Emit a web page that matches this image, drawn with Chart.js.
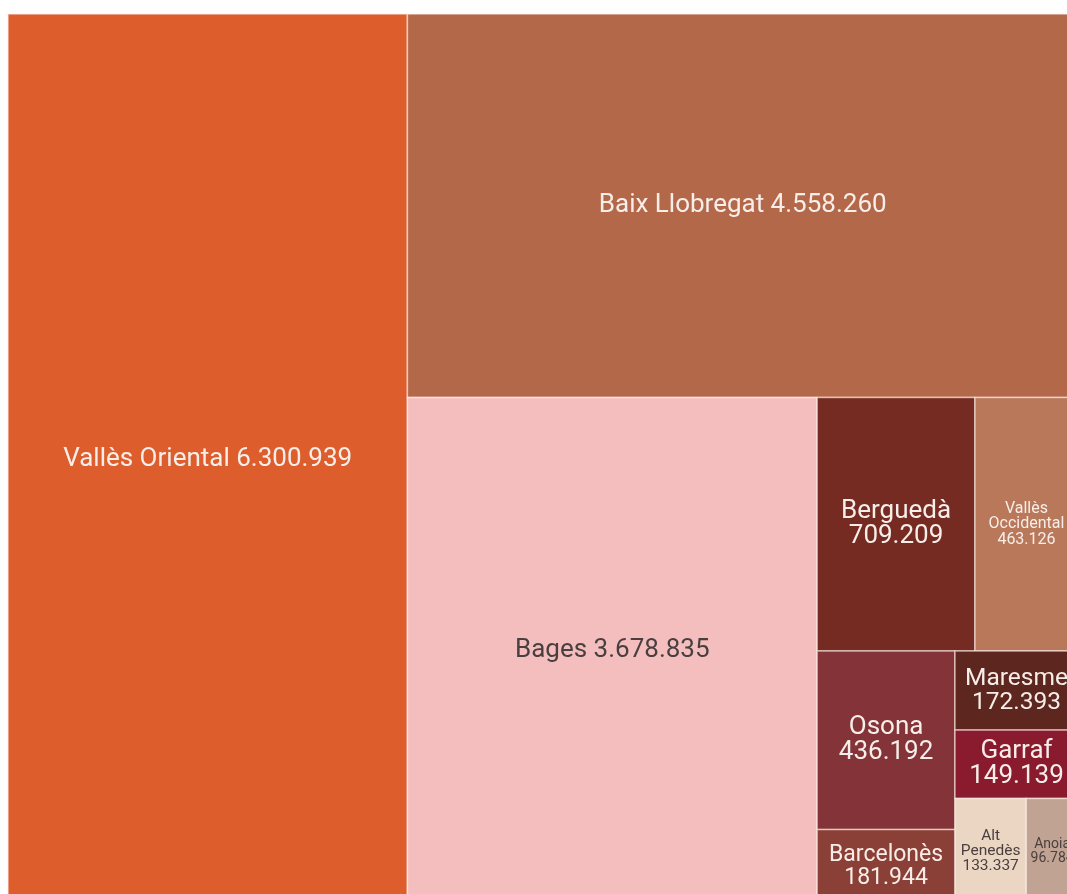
<!DOCTYPE html>
<html>
<head>
<meta charset="utf-8">
<script src="https://cdn.jsdelivr.net/npm/chart.js@4.4.1/dist/chart.umd.min.js"></script>
<style>
  html, body { margin: 0; padding: 0; background: #fff; overflow: hidden; }
  #wrap { position: absolute; left: 0; top: 0; width: 1090px; height: 910px; }
</style>
</head>
<body>
<div id="wrap"><canvas id="treemap"></canvas></div>
<script>
// comarques i valors
const categories = ['Vallès Oriental', 'Baix Llobregat', 'Bages', 'Berguedà', 'Vallès Occidental',
                    'Osona', 'Barcelonès', 'Maresme', 'Garraf', 'Alt Penedès', 'Anoia'];
const values = [6300939, 4558260, 3678835, 709209, 463126, 436192, 181944, 172393, 149139, 133337, 96784];

// mida de l'espai del treemap (unitats de l'eix)
const AREA_W = 1070;
const AREA_H = 890;

// colors per comarca
const palette = {
    'Vallès Oriental': '#dd5e2c',
    'Baix Llobregat': '#b4684a',
    'Bages': '#f4bebf',
    'Berguedà': '#762b22',
    'Vallès Occidental': '#b9785a',
    'Osona': '#843438',
    'Barcelonès': '#8a4036',
    'Maresme': '#5d261e',
    'Garraf': '#8a1a2d',
    'Alt Penedès': '#ebd6c4',
    'Anoia': '#c0a392'
};
const darkText = ['Bages', 'Alt Penedès', 'Anoia'];

function fmt(n) {
    return String(n).replace(/\B(?=(\d{3})+(?!\d))/g, '.');
}

// layout binari (com d3.treemapBinary)
function binaryLayout(nodes, x0, y0, x1, y1) {
    let sums = [0];
    nodes.forEach((nd, i) => sums.push(sums[i] + nd.value));

    function partition(i, j, value, x0, y0, x1, y1) {
        if (i >= j - 1) {
            Object.assign(nodes[i], { x0: x0, y0: y0, x1: x1, y1: y1 });
            return;
        }
        let offset = sums[i], target = value / 2 + offset, k = i + 1, hi = j - 1;
        while (k < hi) {
            let mid = (k + hi) >>> 1;
            if (sums[mid] < target) k = mid + 1; else hi = mid;
        }
        if ((target - sums[k - 1]) < (sums[k] - target) && i + 1 < k) --k;
        let vl = sums[k] - offset, vr = value - vl;
        if ((x1 - x0) > (y1 - y0)) {
            let xk = (x0 * vr + x1 * vl) / value;
            partition(i, k, vl, x0, y0, xk, y1);
            partition(k, j, vr, xk, y0, x1, y1);
        } else {
            let yk = (y0 * vr + y1 * vl) / value;
            partition(i, k, vl, x0, y0, x1, yk);
            partition(k, j, vr, x0, yk, x1, y1);
        }
    }
    partition(0, nodes.length, sums[nodes.length], x0, y0, x1, y1);
    return nodes;
}

let cells = categories.map((c, i) => ({ label: c, value: values[i] }))
    .sort((a, b) => b.value - a.value);
binaryLayout(cells, 0, 0, AREA_W, AREA_H);
cells.forEach(c => { c.x = (c.x0 + c.x1) / 2; c.y = (c.y0 + c.y1) / 2; });

const FONT = 'Roboto, "Noto Sans", sans-serif';

function fitSize(ctx, lines, avail, max) {
    let s = max;
    while (s > 8) {
        ctx.font = s + 'px ' + FONT;
        let widest = Math.max(...lines.map(t => ctx.measureText(t).width));
        if (widest <= avail) break;
        s -= 0.5;
    }
    return s;
}

// dibuixa les cel·les amb les escales del gràfic
const treemapPlugin = {
    id: 'treemapCells',
    afterDatasetsDraw(chart) {
        const ctx = chart.ctx;
        const xs = chart.scales.x, ys = chart.scales.y;
        const data = chart.data.datasets[0].data;
        ctx.save();
        data.forEach(c => {
            let px0 = xs.getPixelForValue(c.x0), px1 = xs.getPixelForValue(c.x1);
            let py0 = ys.getPixelForValue(c.y0), py1 = ys.getPixelForValue(c.y1);
            let w = px1 - px0, h = py1 - py0;
            ctx.fillStyle = palette[c.label];
            ctx.fillRect(px0, py0, w, h);
            ctx.strokeStyle = 'rgba(255, 240, 235, 0.6)';
            ctx.lineWidth = 1.5;
            ctx.strokeRect(px0, py0, w, h);

            // etiqueta: una línia, dues línies o paraula per línia
            let lines, size;
            ctx.font = '26px ' + FONT;
            let single = c.label + ' ' + fmt(c.value);
            if (ctx.measureText(single).width <= w * 0.78) {
                lines = [single];
                size = 26;
            } else {
                lines = [c.label, fmt(c.value)];
                size = fitSize(ctx, lines, w * 0.84, 26);
                if (size < 15) {
                    lines = c.label.split(' ').concat([fmt(c.value)]);
                    size = fitSize(ctx, lines, w * 0.86, 16);
                }
            }
            let lh = size * 0.97;
            ctx.font = size + 'px ' + FONT;
            ctx.fillStyle = darkText.includes(c.label) ? '#4a3f3f' : '#f7eeea';
            ctx.textAlign = 'center';
            ctx.textBaseline = 'middle';
            let cx = px0 + w / 2, cy = py0 + h / 2;
            let top = cy - (lines.length - 1) * lh / 2;
            lines.forEach((t, i) => ctx.fillText(t, cx, top + i * lh));
        });
        ctx.restore();
    }
};

let ctx = document.getElementById('treemap').getContext('2d');
new Chart(ctx, {
    type: 'scatter',
    data: {
        datasets: [{
            label: 'Comarques',
            data: cells,
            pointRadius: 0,
            pointHoverRadius: 0
        }]
    },
    options: {
        responsive: true,
        maintainAspectRatio: false,
        animation: false,
        layout: { padding: { left: 8, top: 14, right: 12, bottom: 6 } },
        plugins: {
            legend: { display: false },
            tooltip: { enabled: false }
        },
        scales: {
            x: { type: 'linear', min: 0, max: AREA_W, display: false },
            y: { type: 'linear', min: 0, max: AREA_H, reverse: true, display: false }
        }
    },
    plugins: [treemapPlugin]
});
</script>
</body>
</html>
